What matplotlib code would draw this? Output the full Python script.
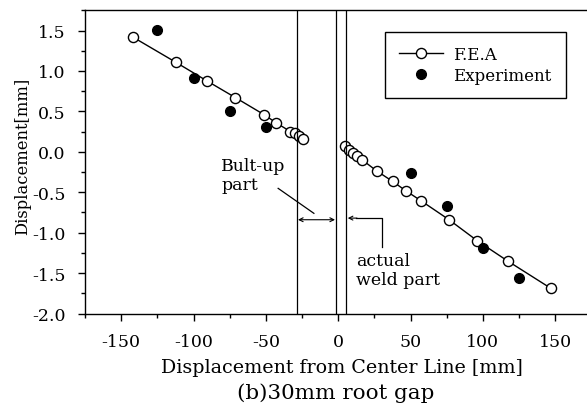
import matplotlib
matplotlib.use("Agg")
import matplotlib.pyplot as plt
from matplotlib.ticker import MultipleLocator, FormatStrFormatter

plt.rcParams['font.family'] = ['DejaVu Serif']
plt.rcParams['axes.unicode_minus'] = False

# F.E.A results, left and right of the weld
fea_left_x = [-142, -112, -91, -71, -51, -43, -33, -30, -27, -24]
fea_left_y = [1.42, 1.105, 0.88, 0.67, 0.457, 0.36, 0.25, 0.23, 0.20, 0.157]
fea_right_x = [4.6, 7.4, 10.4, 13.1, 16.6, 26.5, 37.6, 46.6, 57.2, 76.6, 96.1, 117.1, 147.1]
fea_right_y = [0.074, 0.025, -0.016, -0.05, -0.10, -0.235, -0.366, -0.48, -0.605,
               -0.84, -1.10, -1.35, -1.69]

# measured values
exp_x = [-125, -100, -75, -50, 50, 75, 100, 125]
exp_y = [1.51, 0.91, 0.50, 0.305, -0.263, -0.667, -1.19, -1.565]

# boundaries of built-up and weld zones
zone_lines = [-28.5, -1.5, 5.5]

fig = plt.figure(figsize=(5.87, 4.14), dpi=100)
ax = fig.add_axes([0.1448, 0.2403, 0.8627, 0.7343])

fea_style = dict(color='black', lw=1.0, marker='o', ms=7.3, mfc='white',
                 mec='black', mew=1.0)
ax.plot(fea_left_x, fea_left_y, label='F.E.A', **fea_style)
ax.plot(fea_right_x, fea_right_y, **fea_style)
ax.plot(exp_x, exp_y, ls='none', marker='o', ms=7.0, color='black',
        label='Experiment')

for xv in zone_lines:
    ax.axvline(xv, color='black', lw=0.9)

ax.set_xlim(-175, 175)
ax.set_ylim(-2.0, 1.76)
ax.xaxis.set_major_locator(MultipleLocator(50))
ax.xaxis.set_minor_locator(MultipleLocator(25))
ax.yaxis.set_major_locator(MultipleLocator(0.5))
ax.yaxis.set_minor_locator(MultipleLocator(0.25))
ax.yaxis.set_major_formatter(FormatStrFormatter('%.1f'))
ax.tick_params(which='major', direction='out', length=5, width=1.0,
               labelsize=12.5, top=False, right=False)
ax.tick_params(which='minor', direction='out', length=3, width=1.0,
               top=False, right=False)
ax.tick_params(axis='x', which='major', pad=9)
ax.tick_params(axis='y', which='major', pad=9)
for sp in ax.spines.values():
    sp.set_linewidth(1.0)

ax.set_xlabel('Displacement from Center Line [mm]', fontsize=13.7)
ax.xaxis.set_label_coords(0.5075, -0.146)
ax.set_ylabel('Displacement[mm]', fontsize=11.8)
ax.yaxis.set_label_coords(-0.107, 0.519)
fig.text(0.5724, 0.0507, '(b)30mm root gap', ha='center', va='center',
         fontsize=15.4)

# built-up part callout
ax.text(-81, -0.07, 'Bult-up\npart', fontsize=12.5, ha='left', va='top',
        linespacing=1.15)
ax.plot([-41.5, -16.8], [-0.452, -0.761], color='black', lw=0.9)
ax.annotate('', xy=(-27.8, -0.84), xytext=(-2.2, -0.84),
            arrowprops=dict(arrowstyle='<->', lw=0.8, color='black',
                            mutation_scale=7, shrinkA=0, shrinkB=0))

# actual weld part callout
ax.plot([30, 30, 12], [-1.18, -0.82, -0.82], color='black', lw=0.9)
ax.annotate('', xy=(6.6, -0.82), xytext=(13, -0.82),
            arrowprops=dict(arrowstyle='->', lw=0.8, color='black',
                            mutation_scale=7, shrinkA=0, shrinkB=0))
ax.text(12.5, -1.24, 'actual\nweld part', fontsize=12.5, ha='left', va='top',
        linespacing=1.15)

leg = ax.legend(loc='upper left', bbox_to_anchor=(385 / 587, 1 - 32.5 / 414),
                bbox_transform=fig.transFigure, borderaxespad=0, fancybox=False,
                edgecolor='black', framealpha=1, fontsize=12, handlelength=2.6,
                handletextpad=0.65, borderpad=0.85, labelspacing=0.25)
leg.get_frame().set_linewidth(1.0)

fig.savefig('out.png', dpi=100)
